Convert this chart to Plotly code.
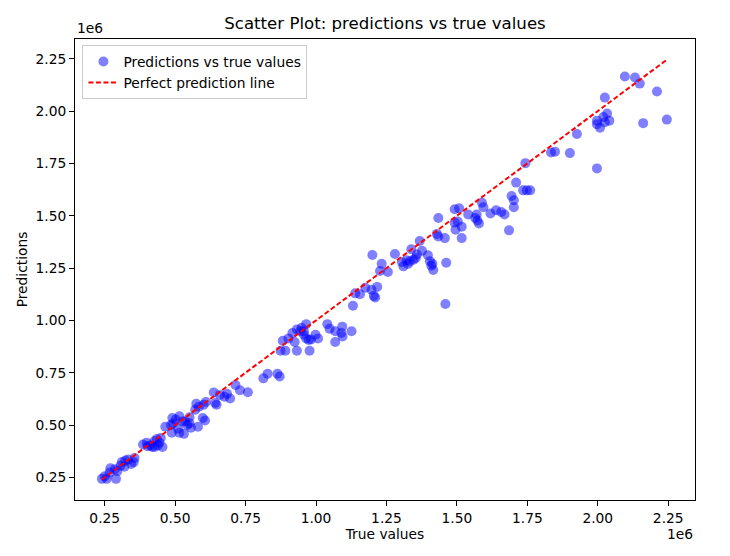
"""Scatter of model predictions against true values, with a perfect-prediction line."""

import numpy as np
import plotly.graph_objects as go

# values in millions (axes show a 1e6 offset label like matplotlib)
true_values_m = [
    2.096, 2.132, 2.149, 2.210, 2.025, 1.997, 1.997, 2.008, 2.025, 2.033, 2.041, 2.020,
    2.161, 2.245, 1.926, 1.901, 1.834, 1.848, 1.997, 1.743, 1.710, 1.735, 1.748, 1.760,
    1.694, 1.702, 1.702, 1.685, 1.589, 1.594, 1.619, 1.639, 1.657, 1.669, 1.570, 1.565,
    1.573, 1.578, 1.540, 1.492, 1.508, 1.434, 1.492, 1.503, 1.517, 1.495, 1.517, 1.429,
    1.434, 1.457, 1.462, 1.459, 1.368, 1.338, 1.376, 1.358, 1.397, 1.404, 1.409, 1.416,
    1.413, 1.305, 1.321, 1.333, 1.346, 1.310, 1.326, 1.354, 1.280, 1.200, 1.233, 1.227,
    1.255, 1.197, 1.217, 1.205, 1.210, 1.175, 1.139, 1.156, 1.131, 1.040, 1.048, 1.093,
    1.090, 1.094, 1.126, 1.068, 1.068, 0.882, 0.874, 0.891, 0.916, 0.924, 0.932, 0.949,
    0.957, 0.965, 0.974, 0.965, 0.982, 0.998, 1.007, 0.932, 0.977, 0.944, 0.957, 0.902,
    0.813, 0.828, 0.863, 0.871, 0.758, 0.730, 0.714, 0.684, 0.695, 0.675, 0.659, 0.637,
    0.642, 0.647, 0.609, 0.601, 0.584, 0.575, 0.571, 0.598, 0.606, 0.581, 0.556, 0.551,
    0.526, 0.515, 0.502, 0.493, 0.485, 0.465, 0.510, 0.531, 0.515, 0.488, 0.535, 0.543,
    0.551, 0.490, 0.386, 0.399, 0.411, 0.419, 0.427, 0.435, 0.444, 0.427, 0.402, 0.449,
    0.455, 0.439, 0.311, 0.323, 0.333, 0.344, 0.353, 0.356, 0.320, 0.306, 0.286, 0.295,
    0.270, 0.267, 0.250, 0.240, 0.257, 0.290,
]
predictions_m = [
    2.165, 2.160, 2.131, 2.093, 2.064, 1.954, 1.937, 1.920, 1.946, 1.988, 1.954, 1.971,
    1.942, 1.959, 1.890, 1.799, 1.802, 1.806, 1.726, 1.751, 1.658, 1.621, 1.621, 1.621,
    1.594, 1.574, 1.540, 1.430, 1.562, 1.540, 1.511, 1.526, 1.518, 1.506, 1.506, 1.489,
    1.477, 1.463, 1.506, 1.531, 1.535, 1.489, 1.467, 1.472, 1.447, 1.433, 1.393, 1.413,
    1.401, 1.393, 1.275, 1.078, 1.379, 1.340, 1.332, 1.315, 1.311, 1.283, 1.261, 1.241,
    1.270, 1.278, 1.287, 1.282, 1.290, 1.258, 1.270, 1.298, 1.317, 1.312, 1.270, 1.236,
    1.231, 1.146, 1.160, 1.117, 1.109, 1.156, 1.129, 1.125, 1.070, 0.982, 0.960, 0.970,
    0.940, 0.923, 0.948, 0.948, 0.897, 0.903, 0.855, 0.855, 0.940, 0.897, 0.957, 0.965,
    0.931, 0.914, 0.906, 0.982, 0.909, 0.931, 0.914, 0.855, 0.855, 0.948, 0.948, 0.914,
    0.723, 0.745, 0.745, 0.732, 0.657, 0.666, 0.691, 0.649, 0.627, 0.635, 0.644, 0.656,
    0.605, 0.597, 0.610, 0.597, 0.588, 0.602, 0.573, 0.534, 0.522, 0.492, 0.487, 0.509,
    0.517, 0.542, 0.526, 0.509, 0.500, 0.492, 0.483, 0.458, 0.463, 0.463, 0.517, 0.500,
    0.537, 0.534, 0.407, 0.416, 0.402, 0.395, 0.424, 0.433, 0.416, 0.395, 0.399, 0.438,
    0.395, 0.402, 0.323, 0.331, 0.335, 0.314, 0.323, 0.343, 0.301, 0.306, 0.289, 0.280,
    0.294, 0.272, 0.255, 0.243, 0.243, 0.243,
]

tick_vals_m = [0.25, 0.50, 0.75, 1.00, 1.25, 1.50, 1.75, 2.00, 2.25]
tick_labels = ["0.25", "0.50", "0.75", "1.00", "1.25", "1.50", "1.75", "2.00", "2.25"]

true_values = np.array(true_values_m) * 1e6
predictions = np.array(predictions_m) * 1e6
tick_vals = np.array(tick_vals_m) * 1e6
line_ends = [true_values.min(), true_values.max()]

FONT = "DejaVu Sans"
TXT = 13.8

fig = go.Figure()
fig.add_trace(go.Scatter(
    x=true_values,
    y=predictions,
    mode="markers",
    name="Predictions vs true values",
    marker=dict(color="blue", opacity=0.5, size=10, line=dict(width=0)),
))
fig.add_trace(go.Scatter(
    x=line_ends,
    y=line_ends,
    mode="lines",
    name="Perfect prediction line",
    line=dict(color="red", width=2, dash="5px,2.5px"),
))

axis_style = dict(
    showgrid=False,
    zeroline=False,
    showline=True,
    linecolor="black",
    linewidth=1,
    mirror=True,
    ticks="outside",
    ticklen=5,
    tickcolor="black",
    tickvals=tick_vals,
    ticktext=tick_labels,
    tickfont=dict(family=FONT, size=TXT, color="black"),
    automargin=False,
)

fig.update_xaxes(
    **axis_style,
    range=[0.1445e6, 2.345e6],
    title=dict(text="True values", font=dict(family=FONT, size=TXT, color="black"), standoff=4),
)
fig.update_yaxes(
    **axis_style,
    range=[0.142e6, 2.344e6],
    title=dict(text="Predictions", font=dict(family=FONT, size=TXT, color="black"), standoff=4),
)

# the page body keeps its default 8px margin, so the figure is sized to fit inside it
fig.update_layout(
    width=714,
    height=540,
    margin=dict(l=67, r=27, t=31, b=48),
    paper_bgcolor="white",
    plot_bgcolor="white",
    font=dict(family=FONT, color="black"),
    title=dict(
        text="Scatter Plot: predictions vs true values",
        font=dict(family=FONT, size=16.6, color="black"),
        x=0.5, xanchor="center", xref="paper",
        y=1 - 15 / 540, yanchor="middle",
    ),
    showlegend=True,
    legend=dict(
        x=0.012, y=0.987, xanchor="left", yanchor="top",
        bgcolor="rgba(255,255,255,0.8)",
        bordercolor="#cccccc",
        borderwidth=1,
        font=dict(family=FONT, size=TXT, color="black"),
    ),
    annotations=[
        dict(text="1e6", xref="paper", yref="paper", x=0.0, y=1.0,
             xanchor="left", yanchor="bottom", showarrow=False, yshift=1,
             font=dict(family=FONT, size=TXT, color="black")),
        dict(text="1e6", xref="paper", yref="paper", x=1.0, y=0.0,
             xanchor="right", yanchor="top", showarrow=False, yshift=-24,
             font=dict(family=FONT, size=TXT, color="black")),
    ],
)

fig.write_html("out.html")
